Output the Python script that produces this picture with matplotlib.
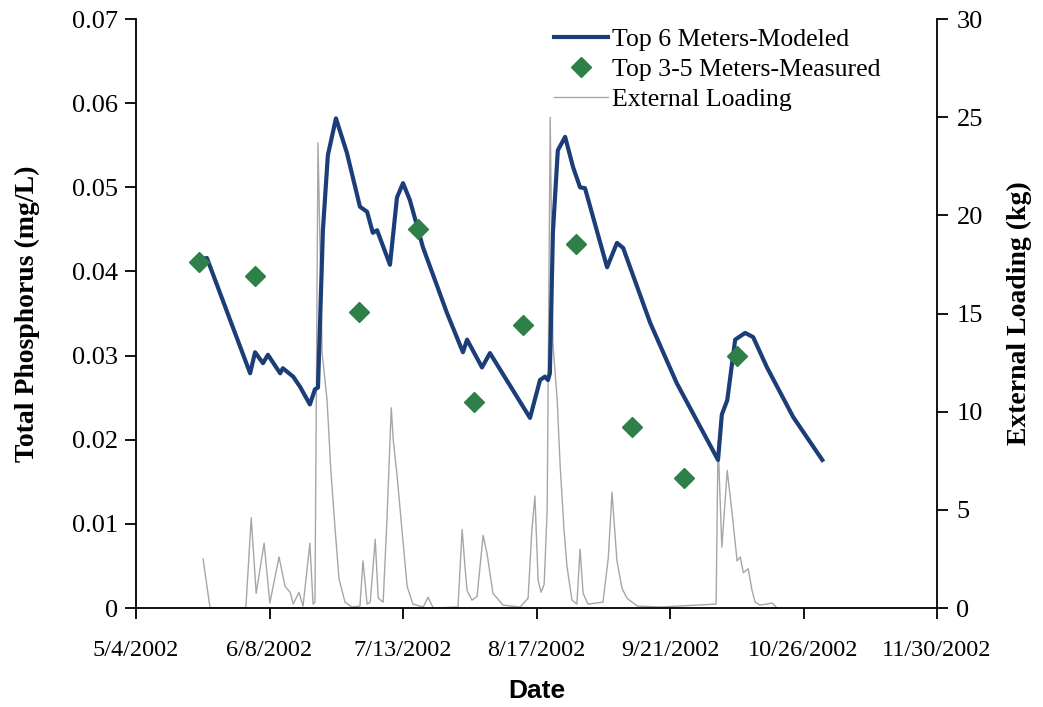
import numpy as np
import pandas as pd
import matplotlib
matplotlib.use('Agg')
import matplotlib.pyplot as plt

# days counted from 5/4/2002
start = np.datetime64('2002-05-04')

model_day = [15.7, 18.6, 29.9, 31.2, 33.3, 34.6, 37.8, 38.5, 41.2, 43.0,
             45.6, 46.9, 47.7, 49.0, 50.3, 52.4, 55.3, 58.7, 60.6, 62.1,
             63.2, 66.6, 68.4, 70.0, 71.8, 75.2, 81.5, 85.7, 86.8, 90.7,
             92.8, 103.3, 105.9, 107.2, 108.0, 108.5, 109.3, 110.6, 112.5, 114.6,
             116.4, 117.7, 123.5, 126.1, 127.7, 134.8, 141.8, 152.6, 153.6, 155.0,
             157.1, 159.7, 161.8, 165.4, 172.3, 179.9]
model_tp = [0.0414, 0.0416, 0.0279, 0.0304, 0.0291, 0.0301, 0.0279, 0.0285, 0.0275, 0.0263,
            0.0242, 0.0260, 0.0262, 0.0449, 0.0538, 0.0582, 0.0541, 0.0477, 0.0471, 0.0446,
            0.0449, 0.0408, 0.0488, 0.0505, 0.0485, 0.0429, 0.0351, 0.0304, 0.0319, 0.0286,
            0.0303, 0.0226, 0.0271, 0.0275, 0.0271, 0.0279, 0.0446, 0.0544, 0.0560, 0.0524,
            0.0500, 0.0499, 0.0405, 0.0434, 0.0428, 0.0339, 0.0267, 0.0176, 0.0230, 0.0247,
            0.0319, 0.0327, 0.0322, 0.0286, 0.0227, 0.0176]

meas_day = [16.5, 31.2, 58.5, 74.0, 88.6, 101.5, 115.4, 130.0, 143.7, 157.6]
meas_tp = [0.0411, 0.0395, 0.0352, 0.0450, 0.0245, 0.0336, 0.0433, 0.0215, 0.0155, 0.0300]

load_day = [17.6, 19.4, 28.8, 30.2, 31.5, 33.6, 35.1, 37.5, 39.1, 40.4,
            41.2, 42.7, 43.8, 45.6, 46.4, 46.9, 47.7, 48.8, 50.1, 51.1,
            52.2, 53.2, 54.8, 56.6, 58.7, 59.5, 60.6, 61.4, 62.7, 63.5,
            64.8, 65.8, 66.9, 67.4, 68.4, 69.7, 71.1, 72.6, 75.3, 76.6,
            77.9, 84.4, 85.5, 86.3, 86.8, 88.1, 89.4, 91.0, 92.0, 93.6,
            96.2, 100.7, 102.8, 103.8, 104.6, 105.4, 106.2, 107.0, 107.8, 108.6,
            109.3, 110.4, 111.2, 112.2, 113.0, 114.3, 115.6, 116.4, 117.2, 118.5,
            122.4, 123.8, 124.8, 126.1, 127.4, 128.7, 131.4, 137.4, 152.1, 152.6,
            153.6, 155.0, 156.3, 157.6, 158.4, 159.2, 160.5, 161.5, 162.3, 163.6,
            166.8, 168.1]
load_kg = [2.5, 0.0, 0.0, 4.6, 0.75, 3.3, 0.25, 2.6, 1.1, 0.8,
           0.2, 0.8, 0.1, 3.3, 0.2, 0.3, 23.7, 13.0, 10.6, 7.0,
           4.0, 1.5, 0.3, 0.05, 0.1, 2.4, 0.2, 0.3, 3.5, 0.5,
           0.3, 4.5, 10.2, 8.6, 6.8, 4.0, 1.1, 0.2, 0.05, 0.55,
           0.0, 0.05, 4.0, 2.0, 0.9, 0.4, 0.6, 3.7, 2.8, 0.75,
           0.15, 0.05, 0.5, 4.0, 5.7, 1.4, 0.8, 1.2, 5.0, 25.0,
           13.5, 10.6, 7.2, 4.0, 2.1, 0.4, 0.2, 3.0, 0.75, 0.2,
           0.3, 2.5, 5.9, 2.4, 1.0, 0.5, 0.1, 0.05, 0.2, 8.5,
           3.1, 7.0, 4.8, 2.4, 2.6, 1.8, 2.0, 0.9, 0.3, 0.15,
           0.25, 0.0]

tick_labels = ['5/4/2002', '6/8/2002', '7/13/2002', '8/17/2002',
               '9/21/2002', '10/26/2002', '11/30/2002']
tp_ticks = [0, 0.01, 0.02, 0.03, 0.04, 0.05, 0.06, 0.07]
tp_tick_labels = ['0', '0.01', '0.02', '0.03', '0.04', '0.05', '0.06', '0.07']
kg_ticks = [0, 5, 10, 15, 20, 25, 30]


def to_dates(days):
    hours = np.round(np.array(days) * 24).astype('timedelta64[h]')
    return start + hours


tick_dates = pd.to_datetime(tick_labels, format='%m/%d/%Y')

serif = 'Liberation Serif'
navy = '#1b3d78'
green = '#2f8048'
gray = '#a6a6a6'

fig = plt.figure(figsize=(10.43, 7.07), dpi=100)
ax = fig.add_axes([0.1304, 0.14, 0.768, 0.833])
ax2 = ax.twinx()

# loading sits behind the phosphorus series
ax.set_zorder(2)
ax2.set_zorder(1)
ax.patch.set_visible(False)

l_load, = ax2.plot(to_dates(load_day), load_kg, color=gray, lw=1.0,
                   label='External Loading')
l_model, = ax.plot(to_dates(model_day), model_tp, color=navy, lw=3,
                   solid_joinstyle='round', label='Top 6 Meters-Modeled')
l_meas, = ax.plot(to_dates(meas_day), meas_tp, ls='none', marker='D',
                  ms=10, color=green, mec=green, label='Top 3-5 Meters-Measured')

ax.set_xlim(tick_dates[0], tick_dates[-1])
ax.set_xticks(tick_dates)
ax.set_xticklabels(tick_labels, fontfamily=serif, fontsize=17.5)
ax.set_ylim(0, 0.07)
ax.set_yticks(tp_ticks)
ax.set_yticklabels(tp_tick_labels, fontfamily=serif, fontsize=19)
ax2.set_ylim(0, 30)
ax2.set_yticks(kg_ticks)
ax2.set_yticklabels([str(k) for k in kg_ticks], fontfamily=serif, fontsize=19)

for a in (ax, ax2):
    a.spines['top'].set_visible(False)
    for s in a.spines.values():
        s.set_linewidth(1.3)
ax2.spines['left'].set_visible(False)
ax2.spines['bottom'].set_visible(False)
ax.spines['right'].set_visible(False)

ax.tick_params(axis='y', direction='out', length=8, width=1.3, pad=5)
ax.tick_params(axis='x', direction='out', length=8, width=1.3, pad=15)
ax2.tick_params(axis='y', direction='out', length=8, width=1.3, pad=6)

ax.set_ylabel('Total Phosphorus (mg/L)', fontfamily=serif, fontweight='bold',
              fontsize=20, labelpad=23)
ax2.set_ylabel('External Loading (kg)', fontfamily=serif, fontweight='bold',
               fontsize=20, labelpad=17)
ax.set_xlabel('Date', fontfamily='Liberation Sans', fontweight='bold',
              fontsize=19, labelpad=13)

ax.legend([l_model, l_meas, l_load],
          [l_model.get_label(), l_meas.get_label(), l_load.get_label()],
          loc='upper left', bbox_to_anchor=(0.531, 0.961), bbox_transform=fig.transFigure,
          frameon=False, prop={'family': serif, 'size': 18.5}, borderaxespad=0,
          handlelength=2.1, handletextpad=0.15, labelspacing=0.28, borderpad=0)

fig.savefig('out.png', dpi=100)
